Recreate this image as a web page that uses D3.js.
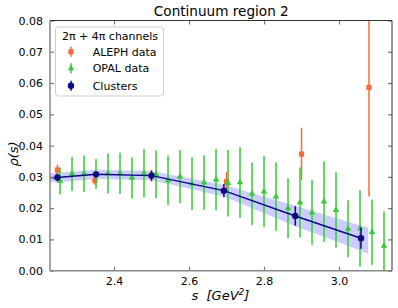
<!DOCTYPE html>
<html><head><meta charset="utf-8">
<script src="https://cdn.jsdelivr.net/npm/d3@7"></script>
<style>body{margin:0;background:#fff}svg{display:block}text{font-family:"DejaVu Sans",sans-serif}</style>
</head><body><svg id="c" width="398" height="308"></svg>
<script>
// ---- data ----
const opalS = [2.256,2.288,2.320,2.352,2.384,2.416,2.448,2.480,2.512,2.544,2.576,2.608,2.640,2.672,2.704,2.736,2.768,2.800,2.832,2.864,2.896,2.928,2.960,2.992,3.024,3.056,3.088,3.120];
const opalV = [0.0287,0.0310,0.0310,0.0309,0.0311,0.0311,0.0297,0.0312,0.0308,0.0289,0.0301,0.0278,0.0282,0.0291,0.0280,0.0282,0.0246,0.0253,0.0237,0.0200,0.0218,0.0186,0.0221,0.0194,0.0134,0.0135,0.0123,0.0079];
const opalE = [0.0043,0.0054,0.0058,0.0048,0.0064,0.0066,0.0066,0.0077,0.0076,0.0079,0.0085,0.0084,0.0087,0.0098,0.0107,0.0113,0.0100,0.0113,0.0110,0.0096,0.0112,0.0103,0.0129,0.0121,0.0091,0.0122,0.0105,0.0110];
const alephS = [2.249,2.349,2.500,2.700,2.900,3.080];
const alephV = [0.0322,0.0288,0.0303,0.0285,0.0373,0.0586];
const alephE = [0.0017,0.0013,0.0018,0.0030,0.0084,0.0349];
const clusS = [2.249,2.352,2.500,2.693,2.8835,3.0587];
const clusV = [0.0298,0.0308,0.0304,0.0256,0.0175,0.0104];
const clusE = [0.0012,0.0010,0.0016,0.0021,0.0031,0.0034];
const lineS = [2.22,2.249,2.352,2.500,2.693,2.8835,3.0587];
const lineV = [0.0297,0.0298,0.0308,0.0304,0.0256,0.0175,0.0104];
const bandS = [2.22,2.249,2.352,2.500,2.693,2.8835,3.0587,3.078];
const bandV = [0.0297,0.0298,0.0308,0.0304,0.0256,0.0175,0.0104,0.0096];
const bandH = [0.0015,0.0015,0.0015,0.0015,0.0019,0.0033,0.0040,0.0042];
const xTicks = [2.4,2.6,2.8,3.0];
const yTicks = [0,0.01,0.02,0.03,0.04,0.05,0.06,0.07,0.08];
const legendTitle = "2π + 4π channels";
const legendLabels = ["ALEPH data","OPAL data","Clusters"];

// ---- layout ----
const L=50,R=392,T=20.5,B=270.7;
const svg=d3.select("#c");
const x=d3.scaleLinear().domain([2.2293,3.1413]).range([L,R]);
const y=d3.scaleLinear().domain([0,0.08]).range([B,T]);
const cOr="#f96a3b", cGr="#33cc33", cNv="#0a0a85";

svg.append("clipPath").attr("id","cp").append("rect").attr("x",L).attr("y",T).attr("width",R-L).attr("height",B-T);
const g=svg.append("g").attr("clip-path","url(#cp)");

// band
const band=bandS.map((s,i)=>({s,v:bandV[i],h:bandH[i]}));
g.append("path").datum(band).attr("fill","#0000ff").attr("fill-opacity",0.2)
 .attr("d",d3.area().x(d=>x(d.s)).y0(d=>y(d.v-d.h)).y1(d=>y(d.v+d.h)));

function errs(S,V,E,col,w){
  g.append("g").selectAll("line").data(S).join("line")
   .attr("x1",(d)=>x(d)).attr("x2",(d)=>x(d))
   .attr("y1",(d,i)=>y(V[i]-E[i])).attr("y2",(d,i)=>y(V[i]+E[i]))
   .attr("stroke",col).attr("stroke-width",w);
}
// ALEPH
errs(alephS,alephV,alephE,cOr,1.5);
g.append("g").selectAll("rect").data(alephS).join("rect")
 .attr("x",d=>x(d)-2.6).attr("y",(d,i)=>y(alephV[i])-2.6).attr("width",5.2).attr("height",5.2).attr("fill",cOr);
// OPAL
errs(opalS,opalV,opalE,cGr,1.5);
const tri=d3.symbol().type(d3.symbolTriangle).size(18);
g.append("g").selectAll("path").data(opalS).join("path")
 .attr("transform",(d,i)=>`translate(${x(d)},${y(opalV[i])})`).attr("d",tri).attr("fill",cGr);
// clusters line
g.append("path").datum(lineS.map((s,i)=>[s,lineV[i]])).attr("fill","none").attr("stroke",cNv).attr("stroke-width",1.5)
 .attr("d",d3.line().x(d=>x(d[0])).y(d=>y(d[1])));
errs(clusS,clusV,clusE,cNv,1.5);
g.append("g").selectAll("circle").data(clusS).join("circle")
 .attr("cx",d=>x(d)).attr("cy",(d,i)=>y(clusV[i])).attr("r",3.2).attr("fill",cNv);

// axes
const fmtY=d3.format(".2f"), fmtX=d3.format(".1f");
const ax=svg.append("g");
ax.append("g").attr("transform",`translate(0,${B})`).call(d3.axisBottom(x).tickValues(xTicks).tickFormat(fmtX).tickSizeInner(-4).tickSizeOuter(0).tickPadding(7));
ax.append("g").attr("transform",`translate(0,${T})`).call(d3.axisTop(x).tickValues(xTicks).tickFormat("").tickSizeInner(-4).tickSizeOuter(0));
ax.append("g").attr("transform",`translate(${L},0)`).call(d3.axisLeft(y).tickValues(yTicks).tickFormat(fmtY).tickSizeInner(-4).tickSizeOuter(0).tickPadding(7));
ax.append("g").attr("transform",`translate(${R},0)`).call(d3.axisRight(y).tickValues(yTicks).tickFormat("").tickSizeInner(-4).tickSizeOuter(0));
ax.selectAll(".domain").remove();
ax.selectAll(".tick line").attr("stroke","#777").attr("stroke-width",1.2);
ax.selectAll(".tick text").attr("font-size",11).attr("fill","#000").attr("font-family","DejaVu Sans");
// spines
svg.append("line").attr("x1",L).attr("x2",L).attr("y1",T).attr("y2",B).attr("stroke","#888").attr("stroke-width",1.5);
svg.append("line").attr("x1",L).attr("x2",R).attr("y1",B).attr("y2",B).attr("stroke","#888").attr("stroke-width",1.5);
svg.append("line").attr("x1",L).attr("x2",R).attr("y1",T).attr("y2",T).attr("stroke","#333").attr("stroke-width",1);
svg.append("line").attr("x1",R).attr("x2",R).attr("y1",T).attr("y2",B).attr("stroke","#333").attr("stroke-width",1);

// title & labels
svg.append("text").attr("x",221.3).attr("y",16).attr("text-anchor","middle").attr("font-size",13.6).text("Continuum region 2");
svg.append("text").attr("x",191.5).attr("y",300).attr("font-size",13).attr("font-style","italic").text("s");
const xl=svg.append("text").attr("x",206.5).attr("y",300).attr("font-size",13).attr("font-style","italic");
xl.append("tspan").text("[GeV");
xl.append("tspan").attr("dy",-5).attr("font-size",9).text("2");
xl.append("tspan").attr("dy",5).text("]");
svg.append("text").attr("transform","translate(18,154) rotate(-90)").attr("text-anchor","middle").attr("font-size",13).attr("font-style","italic").text("ρ(s)");

// legend
const lg=svg.append("g");
lg.append("rect").attr("x",55.5).attr("y",27).attr("width",108).attr("height",69).attr("rx",3).attr("fill","#fff").attr("fill-opacity",0.8).attr("stroke","#ccc");
lg.append("text").attr("x",110).attr("y",40).attr("text-anchor","middle").attr("font-size",11).text(legendTitle);
const ly=[51.7,68.3,85.7], lc=[cOr,cGr,cNv];
legendLabels.forEach((t,i)=>{
  lg.append("line").attr("x1",71).attr("x2",71).attr("y1",ly[i]-5).attr("y2",ly[i]+5).attr("stroke",lc[i]).attr("stroke-width",1.5);
  if(i===0) lg.append("rect").attr("x",68.4).attr("y",ly[i]-2.6).attr("width",5.2).attr("height",5.2).attr("fill",lc[i]);
  if(i===1) lg.append("path").attr("transform",`translate(71,${ly[i]})`).attr("d",tri).attr("fill",lc[i]);
  if(i===2) lg.append("circle").attr("cx",71).attr("cy",ly[i]).attr("r",3.2).attr("fill",lc[i]);
  lg.append("text").attr("x",92.7).attr("y",ly[i]+4).attr("font-size",11).text(t);
});
</script></body></html>
